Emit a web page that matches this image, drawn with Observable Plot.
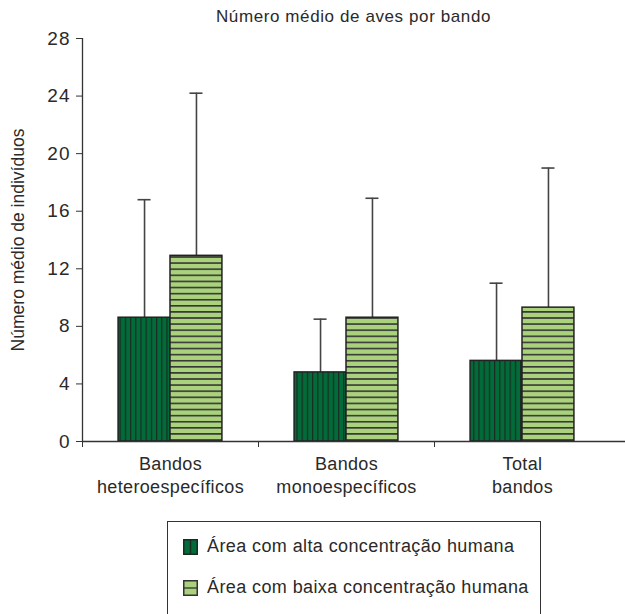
<!DOCTYPE html>
<html><head><meta charset="utf-8">
<script src="https://cdn.jsdelivr.net/npm/d3@7"></script>
<script src="https://cdn.jsdelivr.net/npm/@observablehq/plot@0.6"></script>
<style>
body{margin:0;background:#fff;font-family:"Liberation Sans",Arial,sans-serif;color:#2a2a2a;}
#wrap{position:relative;width:625px;height:614px;overflow:hidden;}
#title{position:absolute;z-index:2;left:82px;width:543px;top:7px;text-align:center;font-size:17px;line-height:20px;letter-spacing:0.6px;}
#chart{position:absolute;left:0;top:0;}
#legend{position:absolute;left:167px;top:521px;width:374px;height:120px;border:1.5px solid #333;box-sizing:border-box;}
.item{position:absolute;left:15px;height:20px;display:flex;align-items:center;font-size:18px;white-space:nowrap;letter-spacing:0.4px;}
.item svg{margin-right:9px;}
.ytick text{letter-spacing:1px;}
.xlab text{letter-spacing:0.35px;}
</style></head><body>
<div id="wrap"><div id="chart"></div><div id="title"></div><div id="legend"></div></div>
<script>
const categories = ["Bandos\nheteroespecíficos", "Bandos\nmonoespecíficos", "Total\nbandos"];
const series = ["Área com alta concentração humana", "Área com baixa concentração humana"];
const altaMean = [8.6, 4.8, 5.6];
const altaUpper = [16.8, 8.5, 11.0];
const baixaMean = [12.9, 8.6, 9.3];
const baixaUpper = [24.2, 16.9, 19.0];
const yTicks = [0, 4, 8, 12, 16, 20, 24, 28];
const titleText = "Número médio de aves por bando";
const yLabel = "Número médio de indivíduos";

const alta = categories.map((c, i) => ({i, c, mean: altaMean[i], upper: altaUpper[i]}));
const baixa = categories.map((c, i) => ({i, c, mean: baixaMean[i], upper: baixaUpper[i]}));

document.getElementById("title").textContent = titleText;

const W = 0.295; // bar width in category units
const cap = 0.037;
const plot = Plot.plot({
  width: 625,
  height: 505,
  marginLeft: 82,
  marginRight: 0,
  marginTop: 38,
  marginBottom: 64,
  style: {fontFamily: '"Liberation Sans", Arial, sans-serif', fontSize: "18px", color: "#2a2a2a", background: "white"},
  x: {domain: [0, 3], range: [82, 610]},
  y: {domain: [0, 28]},
  marks: [
    Plot.axisY(yTicks, {tickSize: 6, tickPadding: 6, label: null, stroke: "#333", fontSize: 19, className: "ytick"}),
    Plot.axisX([0, 1, 2], {tickSize: 6, tickFormat: () => "", label: null, stroke: "#333"}),
    Plot.ruleX([0], {stroke: "#333", strokeWidth: 1.3}),
    // error bars (upper only)
    Plot.ruleX(alta, {x: d => d.i + 0.5 - W / 2, y1: "mean", y2: "upper", stroke: "#444", strokeWidth: 1.6}),
    Plot.ruleY(alta, {y: "upper", x1: d => d.i + 0.5 - W / 2 - cap, x2: d => d.i + 0.5 - W / 2 + cap, stroke: "#444", strokeWidth: 1.6}),
    Plot.ruleX(baixa, {x: d => d.i + 0.5 + W / 2, y1: "mean", y2: "upper", stroke: "#444", strokeWidth: 1.6}),
    Plot.ruleY(baixa, {y: "upper", x1: d => d.i + 0.5 + W / 2 - cap, x2: d => d.i + 0.5 + W / 2 + cap, stroke: "#444", strokeWidth: 1.6}),
    // bars
    Plot.rectY(alta, {x1: d => d.i + 0.5 - W, x2: d => d.i + 0.5, y1: 0, y2: "mean", fill: "url(#patAlta)", stroke: "#222", strokeWidth: 1.5}),
    Plot.rectY(baixa, {x1: d => d.i + 0.5, x2: d => d.i + 0.5 + W, y1: 0, y2: "mean", fill: "url(#patBaixa)", stroke: "#222", strokeWidth: 1.5}),
    Plot.ruleY([0], {stroke: "#333", strokeWidth: 1.3}),
    Plot.text(categories, {x: (d, i) => i + 0.5, y: () => 0, text: d => d, lineAnchor: "top", dy: 12.5, lineHeight: 1.28, fontSize: 18, className: "xlab"}),
    Plot.text([yLabel], {frameAnchor: "left", textAnchor: "middle", dx: -64, rotate: -90, fontSize: 17.5})
  ]
});
const ns = "http://www.w3.org/2000/svg";
const defs = document.createElementNS(ns, "defs");
defs.innerHTML = `<pattern id="patAlta" patternUnits="userSpaceOnUse" width="5.2" height="10"><rect width="5.2" height="10" fill="#016b3a"/><line x1="0.6" y1="0" x2="0.6" y2="10" stroke="#1c2b22" stroke-width="1.2"/></pattern>
<pattern id="patBaixa" patternUnits="userSpaceOnUse" width="10" height="6.1"><rect width="10" height="6.1" fill="#aad27c"/><line x1="0" y1="0.8" x2="10" y2="0.8" stroke="#353535" stroke-width="1.6"/></pattern>`;
plot.prepend(defs);
document.getElementById("chart").appendChild(plot);

// legend
const legend = document.getElementById("legend");
const sw = [
  `<svg width="15" height="16"><rect x="0.75" y="0.75" width="13.5" height="14.5" fill="#016b3a" stroke="#1c2b22" stroke-width="1.5"/><line x1="7.5" y1="0" x2="7.5" y2="16" stroke="#1c2b22" stroke-width="1.5"/></svg>`,
  `<svg width="15" height="16"><rect x="0.75" y="0.75" width="13.5" height="14.5" fill="#aad27c" stroke="#333" stroke-width="1.5"/><line x1="0" y1="8" x2="15" y2="8" stroke="#333" stroke-width="1.3"/></svg>`
];
series.forEach((s, k) => {
  const div = document.createElement("div");
  div.className = "item";
  div.style.top = (k === 0 ? 14.5 : 55.5) + "px";
  div.innerHTML = sw[k];
  const span = document.createElement("span");
  span.textContent = s;
  div.appendChild(span);
  legend.appendChild(div);
});
</script>
</body></html>
